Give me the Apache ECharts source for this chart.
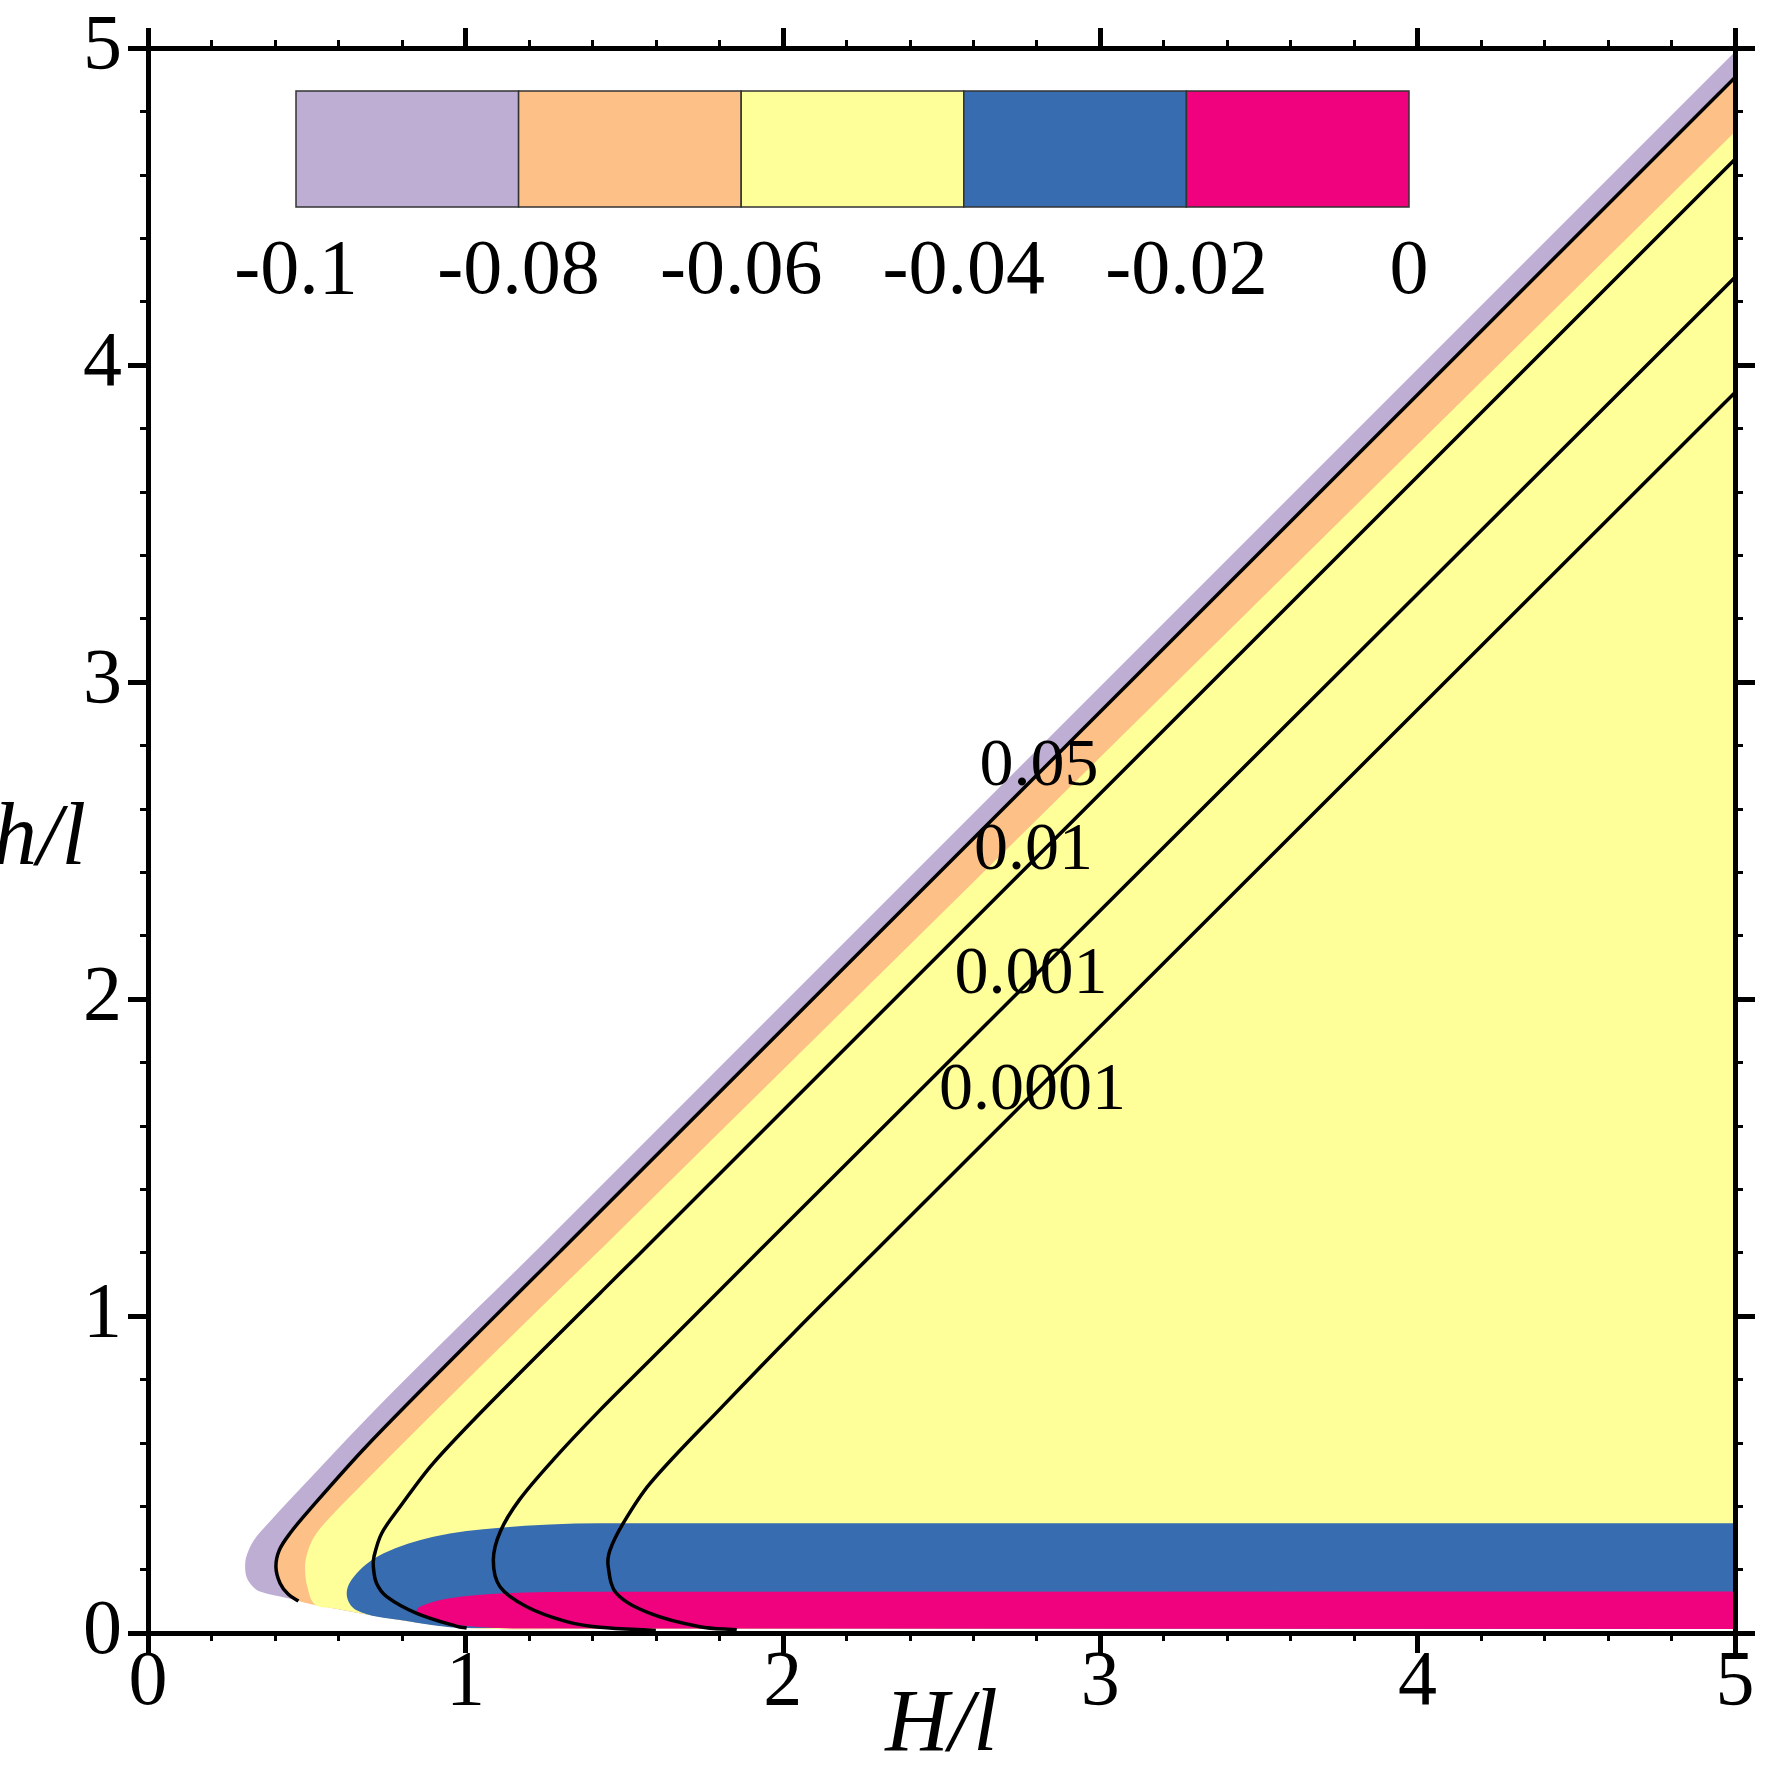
<!DOCTYPE html>
<html>
<head>
<meta charset="utf-8">
<title>h/l vs H/l</title>
<script src="https://cdn.jsdelivr.net/npm/echarts@6/dist/echarts.min.js"></script>
<style>
  html, body { margin: 0; padding: 0; background: #fff; }
  #main { width: 1772px; height: 1772px; }
</style>
</head>
<body>
<div id="main"></div>
<script>
// ---- data (H/l , h/l) ----
var xTicks = [0, 1, 2, 3, 4, 5];
var yTicks = [0, 1, 2, 3, 4, 5];

// colour bar
var cbEdges = [-0.1, -0.08, -0.06, -0.04, -0.02, 0];
var cbLabels = ['-0.1', '-0.08', '-0.06', '-0.04', '-0.02', '0'];
var cbColors = ['#BEAED4', '#FDC086', '#FFFF99', '#386CB0', '#F0027F'];

// outer edge of the filled wedge (white / -0.1 level)
var outerEdge = [[5, 4.988], [1.225, 1.208], [0.962, 0.950], [0.689, 0.677], [0.458, 0.432],
  [0.379, 0.346], [0.332, 0.290], [0.310, 0.241], [0.306, 0.209], [0.311, 0.175],
  [0.330, 0.147], [0.355, 0.130], [0.416, 0.115]];
// lower edge of the filled area, near h/l = 0
var bottomEdge = [[0.584, 0.078], [0.794, 0.041], [1.004, 0.016], [1.4, 0.013], [5, 0.013]];
// -0.06 level (orange / yellow)
var edge06 = [[5, 4.736], [1.424, 1.208], [1.214, 1.004], [0.888, 0.683], [0.636, 0.430],
  [0.573, 0.364], [0.521, 0.300], [0.499, 0.241], [0.495, 0.199], [0.502, 0.146], [0.526, 0.090]];
// -0.04 level (yellow / blue)
var edge04 = [[5, 0.346], [1.424, 0.346], [1.109, 0.332], [0.899, 0.304], [0.741, 0.251],
  [0.657, 0.188], [0.626, 0.125], [0.657, 0.072], [0.794, 0.041], [1.004, 0.016], [5, 0.013]];
// -0.02 level (blue / pink)
var edge02 = [[5, 0.131], [1.424, 0.130], [1.109, 0.125], [0.951, 0.110], [0.880, 0.092],
  [0.847, 0.067], [0.899, 0.042], [1.004, 0.022], [1.2, 0.014], [5, 0.013]];

// black contour lines
var line005 = [[5, 4.907], [1.303, 1.208], [1.004, 0.910], [0.689, 0.590], [0.510, 0.390],
  [0.447, 0.314], [0.414, 0.262], [0.403, 0.209], [0.416, 0.157], [0.442, 0.122], [0.474, 0.101]];
var line001 = [[5, 4.649], [1.561, 1.208], [1.424, 1.072], [1.109, 0.757], [0.899, 0.536],
  [0.794, 0.398], [0.736, 0.314], [0.712, 0.241], [0.710, 0.209], [0.720, 0.157],
  [0.752, 0.115], [0.847, 0.062], [0.973, 0.021], [1.004, 0.016]];
var line0001 = [[5, 4.277], [1.928, 1.208], [1.582, 0.861], [1.424, 0.703], [1.280, 0.550],
  [1.170, 0.420], [1.110, 0.320], [1.088, 0.230], [1.109, 0.146],
  [1.193, 0.083], [1.319, 0.036], [1.424, 0.018], [1.600, 0.008]];
var line00001 = [[5, 3.913], [2.295, 1.208], [2.040, 0.953], [1.810, 0.715], [1.582, 0.472],
  [1.497, 0.346], [1.455, 0.260], [1.450, 0.209], [1.476, 0.125], [1.582, 0.062],
  [1.739, 0.020], [1.855, 0.010]];

var contourLabels = [
  { name: '0.05', value: [2.807, 2.732] },
  { name: '0.01', value: [2.790, 2.468] },
  { name: '0.001', value: [2.782, 2.074] },
  { name: '0.0001', value: [2.787, 1.708] }
];

// ---- build the filled bands, drawn back to front ----
var regions = [
  { color: cbColors[0], pts: outerEdge.concat(bottomEdge) },
  { color: cbColors[1], pts: line005.concat(bottomEdge) },
  { color: cbColors[2], pts: edge06.concat(bottomEdge) },
  { color: cbColors[3], pts: edge04 },
  { color: cbColors[4], pts: edge02 }
];
var contours = [line005, line001, line0001, line00001];

var cbData = [];
for (var i = 0; i < cbColors.length; i++) {
  cbData.push([cbEdges[i], cbEdges[i + 1], i]);
}

var serif = "'Liberation Serif', 'Times New Roman', serif";
var tickFont = 78;

// pixel points -> svg path, long pieces stay straight, short ones get a soft curve
function smoothPath(pts, closed) {
  var LONG = 300;
  var n = pts.length;
  function len(a, b) { return Math.sqrt((b[0] - a[0]) * (b[0] - a[0]) + (b[1] - a[1]) * (b[1] - a[1])); }
  function unit(a, b) {
    var l = len(a, b) || 1;
    return [(b[0] - a[0]) / l, (b[1] - a[1]) / l];
  }
  var tan = [];
  for (var i = 0; i < n; i++) {
    var p = pts[i], prev = pts[i - 1], next = pts[i + 1];
    if (!prev) tan.push(unit(p, next));
    else if (!next) tan.push(unit(prev, p));
    else if (len(prev, p) > LONG && len(p, next) <= LONG) tan.push(unit(prev, p));
    else if (len(p, next) > LONG && len(prev, p) <= LONG) tan.push(unit(p, next));
    else tan.push(unit(prev, next));
  }
  var d = 'M' + pts[0][0] + ',' + pts[0][1];
  for (var j = 0; j < n - 1; j++) {
    var a = pts[j], b = pts[j + 1], L = len(a, b);
    if (L > LONG) {
      d += ' L' + b[0] + ',' + b[1];
    } else {
      var c1 = [a[0] + tan[j][0] * L / 3, a[1] + tan[j][1] * L / 3];
      var c2 = [b[0] - tan[j + 1][0] * L / 3, b[1] - tan[j + 1][1] * L / 3];
      d += ' C' + c1[0] + ',' + c1[1] + ' ' + c2[0] + ',' + c2[1] + ' ' + b[0] + ',' + b[1];
    }
  }
  if (closed) d += ' Z';
  return d;
}

function mainAxis(pos, labels, extra) {
  var ax = {
    type: 'value',
    gridIndex: 0,
    position: pos,
    min: 0,
    max: 5,
    interval: 1,
    z: 10,
    axisLine: { show: true, onZero: false, lineStyle: { color: '#000', width: 5 } },
    axisTick: { show: true, inside: false, length: 20, lineStyle: { color: '#000', width: 5 } },
    minorTick: { show: true, splitNumber: 5, length: 8, lineStyle: { color: '#000', width: 3 } },
    splitLine: { show: false },
    minorSplitLine: { show: false },
    axisLabel: {
      show: labels,
      color: '#000',
      fontFamily: serif,
      fontSize: tickFont,
      showMinLabel: true,
      showMaxLabel: true
    }
  };
  for (var k in extra) ax[k] = extra[k];
  return ax;
}

var myChart = echarts.init(document.getElementById('main'));

var option = {
  animation: false,
  backgroundColor: '#fff',
  grid: [
    { left: 148, right: 37, top: 48, bottom: 139, containLabel: false, outerBoundsMode: 'none' },
    { left: 296, top: 91, width: 1113, height: 116, containLabel: false, outerBoundsMode: 'none' }
  ],
  xAxis: [
    mainAxis('bottom', true, {
      name: 'H/l',
      nameLocation: 'middle',
      nameGap: 50,
      nameMoveOverlap: false,
      nameTextStyle: { color: '#000', fontFamily: serif, fontStyle: 'italic', fontSize: 88 },
      axisLabel: { show: true, color: '#000', fontFamily: serif, fontSize: tickFont, margin: 12,
        showMinLabel: true, showMaxLabel: true }
    }),
    mainAxis('top', false, {}),
    {
      type: 'value',
      gridIndex: 1,
      min: cbEdges[0],
      max: cbEdges[cbEdges.length - 1],
      interval: 0.02,
      axisLine: { show: false },
      axisTick: { show: false },
      splitLine: { show: false },
      axisLabel: {
        color: '#000',
        fontFamily: serif,
        fontSize: tickFont,
        margin: 27,
        showMinLabel: true,
        showMaxLabel: true,
        formatter: function (v, idx) { return cbLabels[idx]; }
      }
    }
  ],
  yAxis: [
    mainAxis('left', true, {
      name: 'h/l',
      nameLocation: 'middle',
      nameRotate: 0,
      nameGap: 62,
      nameMoveOverlap: false,
      nameTextStyle: { color: '#000', fontFamily: serif, fontStyle: 'italic', fontSize: 88,
        padding: [16, 0, 0, 0] },
      axisLabel: { show: true, color: '#000', fontFamily: serif, fontSize: tickFont, margin: 26,
        showMinLabel: true, showMaxLabel: true }
    }),
    mainAxis('right', false, {}),
    { type: 'value', gridIndex: 1, min: 0, max: 1, show: false }
  ],
  series: [
    {
      // filled bands
      type: 'custom',
      xAxisIndex: 0,
      yAxisIndex: 0,
      silent: true,
      z: 2,
      data: regions.map(function (r, i) { return [i, 0]; }),
      renderItem: function (params, api) {
        var r = regions[params.dataIndex];
        var px = r.pts.map(function (p) { return api.coord(p); });
        return {
          type: 'path',
          shape: { pathData: smoothPath(px, true) },
          style: { fill: r.color, stroke: null }
        };
      }
    },
    {
      // black contour lines
      type: 'custom',
      xAxisIndex: 0,
      yAxisIndex: 0,
      silent: true,
      z: 5,
      data: contours.map(function (c, i) { return [i, 0]; }),
      renderItem: function (params, api) {
        var px = contours[params.dataIndex].map(function (p) { return api.coord(p); });
        return {
          type: 'path',
          shape: { pathData: smoothPath(px, false) },
          style: { fill: null, stroke: '#000', lineWidth: 3.5 }
        };
      }
    },
    {
      // contour labels
      type: 'scatter',
      xAxisIndex: 0,
      yAxisIndex: 0,
      symbolSize: 0,
      silent: true,
      z: 6,
      itemStyle: { opacity: 1 },
      data: contourLabels,
      label: {
        show: true,
        position: 'inside',
        formatter: '{b}',
        color: '#000',
        opacity: 1,
        textBorderWidth: 0,
        fontFamily: serif,
        fontSize: 68
      }
    },
    {
      // colour bar boxes
      type: 'custom',
      xAxisIndex: 2,
      yAxisIndex: 2,
      silent: true,
      data: cbData,
      renderItem: function (params, api) {
        var p0 = api.coord([api.value(0), 1]);
        var p1 = api.coord([api.value(1), 0]);
        return {
          type: 'rect',
          shape: { x: p0[0], y: p0[1], width: p1[0] - p0[0], height: p1[1] - p0[1] },
          style: { fill: cbColors[api.value(2)], stroke: '#333', lineWidth: 1.5 }
        };
      }
    }
  ]
};

myChart.setOption(option);

window.addEventListener('resize', function () {
  myChart.resize();
});
</script>
</body>
</html>
